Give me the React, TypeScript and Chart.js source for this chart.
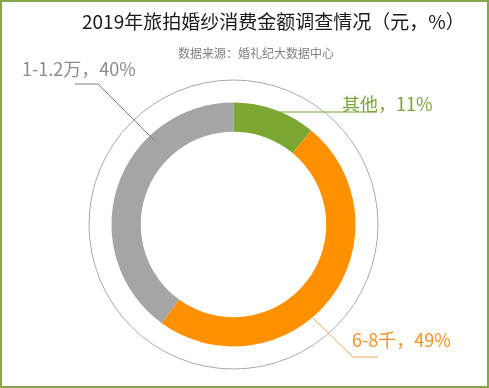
import React, { useEffect, useRef } from "react";
import { Chart, registerables } from "chart.js";

Chart.register(...registerables);

const categories = ["其他", "6-8千", "1-1.2万"];
const shares = [11, 49, 40];
const segmentColors = ["#7ba732", "#ff9100", "#a5a5a5"];
const labelColors = ["#7aa53a", "#f39322", "#8c8c8c"];
const lineColors = ["#7ba732", "#eca455", "#7f7f7f"];
const titleText = "2019年旅拍婚纱消费金额调查情况（元，%）";
const subtitleText = "数据来源：婚礼纪大数据中心";

// leader geometry, relative to the doughnut centre (styling only)
const leaderPaths: number[][][] = [
  [[43.5, -112.5], [143.5, -112.5]],
  [[79.5, 93.5], [119.5, 132.5], [144.5, 132.5]],
  [[-78.5, -83.5], [-135.5, -140.5], [-158.5, -140.5]],
];
const labelAnchors: number[][] = [
  [108.5, -113.5],
  [118.5, 122],
  [-211.5, -148.5],
];

const FONT = '"Noto Sans CJK SC", "Noto Sans", sans-serif';

const decorPlugin = {
  id: "decor",
  beforeDatasetsDraw(chart: any) {
    const arc = chart.getDatasetMeta(0).data[0];
    if (!arc) return;
    const ctx = chart.ctx;
    ctx.save();
    ctx.beginPath();
    ctx.arc(arc.x, arc.y, arc.outerRadius + 22.5, 0, Math.PI * 2);
    ctx.strokeStyle = "#a8a8a8";
    ctx.lineWidth = 1;
    ctx.stroke();
    ctx.restore();
  },
  afterDatasetsDraw(chart: any) {
    const arc = chart.getDatasetMeta(0).data[0];
    if (!arc) return;
    const ctx = chart.ctx;
    const cx = arc.x;
    const cy = arc.y;
    ctx.save();
    // title
    ctx.fillStyle = "#1a1a1a";
    ctx.font = `19px ${FONT}`;
    ctx.textBaseline = "alphabetic";
    ctx.textAlign = "left";
    ctx.fillText(titleText, 82, 28.5);
    ctx.fillStyle = "#808080";
    ctx.font = `12px ${FONT}`;
    ctx.fillText(subtitleText, 178, 57.5);
    // leaders and labels
    categories.forEach((cat, i) => {
      const path = leaderPaths[i];
      ctx.beginPath();
      path.forEach((p, k) => {
        const x = cx + p[0];
        const y = cy + p[1];
        if (k === 0) ctx.moveTo(x, y);
        else ctx.lineTo(x, y);
      });
      ctx.strokeStyle = lineColors[i];
      ctx.lineWidth = 1;
      ctx.stroke();
      ctx.fillStyle = labelColors[i];
      ctx.font = `18px ${FONT}`;
      ctx.fillText(`${cat}，${shares[i]}%`, cx + labelAnchors[i][0], cy + labelAnchors[i][1]);
    });
    ctx.restore();
  },
};

export default function App() {
  const ref = useRef<HTMLCanvasElement | null>(null);
  useEffect(() => {
    if (!ref.current) return;
    const chart = new Chart(ref.current, {
      type: "doughnut",
      data: {
        labels: categories,
        datasets: [
          {
            data: shares,
            backgroundColor: segmentColors,
            borderWidth: 0,
          },
        ],
      },
      options: {
        responsive: false,
        animation: false,
        cutout: "76%",
        layout: { padding: { left: 111.5, top: 102.5, right: 133.5, bottom: 41.5 } },
        plugins: {
          legend: { display: false },
          tooltip: { enabled: false },
          title: { display: false },
        },
      },
      plugins: [decorPlugin],
    });
    return () => chart.destroy();
  }, []);
  return (
    <div style={{ position: "fixed", left: 0, top: 0, width: 489, height: 388, background: "#fff" }}>
      <canvas ref={ref} width={489} height={388} style={{ position: "absolute", left: 0, top: 0, width: 489, height: 388 }} />
      <div
        style={{
          position: "absolute",
          left: 0,
          top: 0,
          width: 489,
          height: 388,
          boxSizing: "border-box",
          border: "2px solid #86a64c",
          pointerEvents: "none",
        }}
      />
    </div>
  );
}
